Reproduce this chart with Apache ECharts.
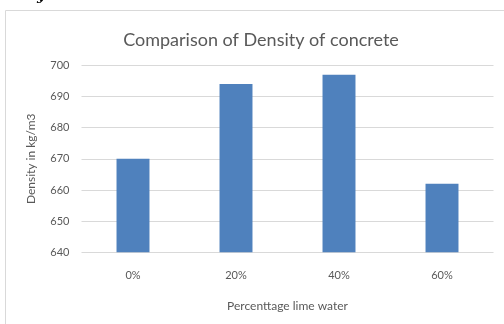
<!DOCTYPE html>
<html>
<head>
<meta charset="utf-8">
<script src="https://cdn.jsdelivr.net/npm/echarts@6/dist/echarts.min.js"></script>
<style>
  html, body { margin: 0; padding: 0; background: #fff; }
  #main { width: 504px; height: 324px; }
</style>
</head>
<body>
<div id="main"></div>
<script>
const categories = ["0%", "20%", "40%", "60%"];
const density = [670, 694, 697, 662];
const yTicks = [640, 650, 660, 670, 680, 690, 700];

const chart = echarts.init(document.getElementById("main"));
const font = "Lato, 'Open Sans', sans-serif";

chart.setOption({
  animation: false,
  textStyle: { fontFamily: font },
  title: {
    text: "Comparison of Density of concrete",
    left: 256,
    top: 26,
    textAlign: "center",
    textStyle: { fontFamily: font, fontSize: 18, fontWeight: "normal", color: "#595959" }
  },
  graphic: [
    {
      type: "rect",
      shape: { x: 5.5, y: 10.5, width: 600, height: 400 },
      style: { fill: "none", stroke: "#d9d9d9", lineWidth: 1 }
    },
    {
      type: "text",
      x: 37, y: -11,
      style: { text: "y", font: "italic bold 14px 'DejaVu Serif'", fill: "#000" }
    }
  ],
  grid: { left: 81.5, right: 10.5, top: 65.3, bottom: 71.7, containLabel: false },
  xAxis: {
    type: "category",
    data: categories,
    axisLine: { show: false },
    axisTick: { show: false },
    axisLabel: { color: "#595959", fontSize: 11, margin: 18 },
    name: "Percenttage lime water",
    nameLocation: "middle",
    nameGap: 48,
    nameTextStyle: { color: "#595959", fontSize: 12 }
  },
  yAxis: {
    type: "value",
    min: yTicks[0],
    max: yTicks[yTicks.length - 1],
    interval: 10,
    axisLine: { show: false },
    axisTick: { show: false },
    axisLabel: { color: "#595959", fontSize: 11, margin: 12 },
    splitLine: { lineStyle: { color: "#d9d9d9", width: 1 } },
    name: "Density in kg/m3",
    nameLocation: "middle",
    nameGap: 44,
    nameTextStyle: { color: "#595959", fontSize: 12 }
  },
  series: [{
    type: "bar",
    data: density,
    barWidth: "32%",
    itemStyle: { color: "#4f81bd" }
  }]
});
</script>
</body>
</html>
